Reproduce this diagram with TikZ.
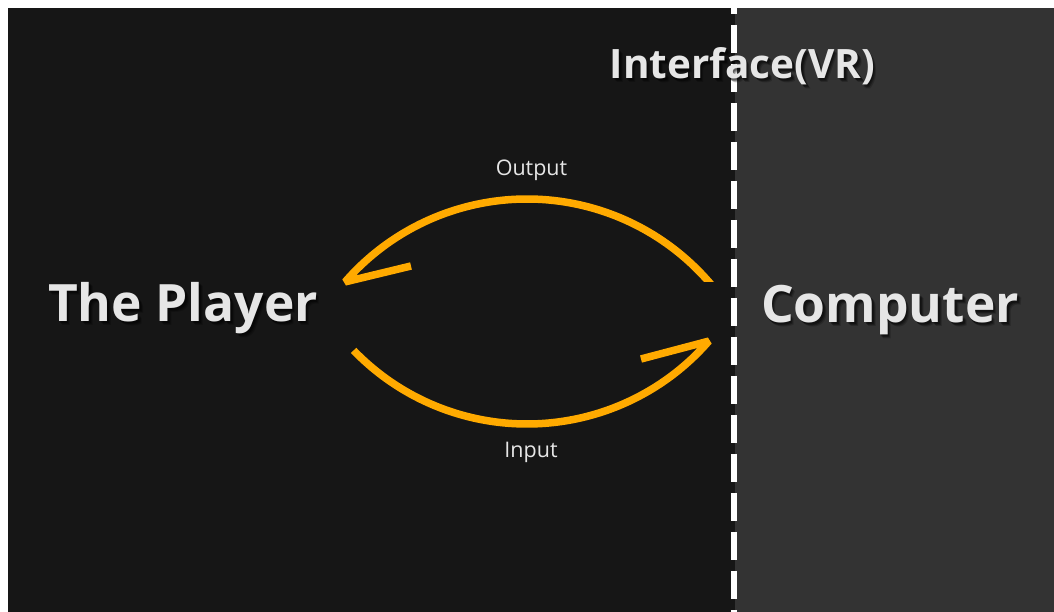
\documentclass[tikz,border=0pt]{standalone}
\usepackage{fontspec}
\setmainfont{Open Sans}
\definecolor{panelleft}{HTML}{161616}
\definecolor{panelright}{HTML}{333333}
\definecolor{flow}{HTML}{FFAA00}
\definecolor{labeltext}{HTML}{E6E6E6}

% a label with a soft drop shadow underneath
\newcommand\shadowlabel[4]{%
  \foreach \i/\d/\o in {1/1.5/0.35, 2/2.5/0.3, 3/3.5/0.2} {
    \node[#2, text=black, opacity=\o, xshift=\d pt, yshift=-\d pt] (#1-shade\i) at (#3) {#4};
  }
  \node[#2] (#1) at (#3) {#4};
}

\begin{document}
\begin{tikzpicture}[x=1pt, y=1pt,
  bigtitle/.style={font=\bfseries\fontsize{51.5}{56}\selectfont, text=labeltext, inner sep=0pt, anchor=base},
  headtitle/.style={font=\bfseries\fontsize{40.5}{44}\selectfont, text=labeltext, inner sep=0pt, anchor=base},
  flowlabel/.style={font=\fontsize{21.5}{24}\selectfont, text=labeltext, inner sep=0pt, anchor=base},
  flowarrow/.style={draw=flow, line width=7.5pt, line join=bevel, line cap=butt},
  divider/.style={draw=white, line width=6pt, dash pattern=on 28pt off 11pt, dash phase=22pt}]

\useasboundingbox (0,0) rectangle (1054,612);
\fill[white] (0,0) rectangle (1054,612);

% the two sides
\fill[panelleft] (8,0) rectangle (735,604);
\fill[panelright] (735,0) rectangle (1054,604);
\draw[divider] (734,604) -- (734,0);

% labels
\shadowlabel{player}{bigtitle}{183,290}{The Player}
\shadowlabel{computer}{bigtitle}{890,289}{Computer}
\shadowlabel{interface}{headtitle}{742.5,533}{Interface(VR)}
\node[flowlabel] (output) at (531.5,436) {Output};
\node[flowlabel] (input) at (531,154) {Input};

% arc end points
\coordinate (outTip)  at (345.1,330.1);
\coordinate (outBarb) at (411,346);
\coordinate (inTail)  at (353.6,261.6);
\coordinate (inTip)   at (708.9,270.9);
\coordinate (inBarb)  at (641,253);

% output: computer -> player
\begin{scope}
  \clip (0,0) rectangle (527,612) (527,330) rectangle (1054,612);
  \draw[flowarrow] (outBarb) -- (outTip) arc[start angle=139, end angle=38, radius=241pt];
\end{scope}

% input: player -> computer
\begin{scope}
  \clip (0,0) rectangle (527,270) (527,0) rectangle (1054,612);
  \draw[flowarrow] (inTail) arc[start angle=224, end angle=319, radius=241pt] -- (inBarb);
\end{scope}
\end{tikzpicture}
\end{document}
